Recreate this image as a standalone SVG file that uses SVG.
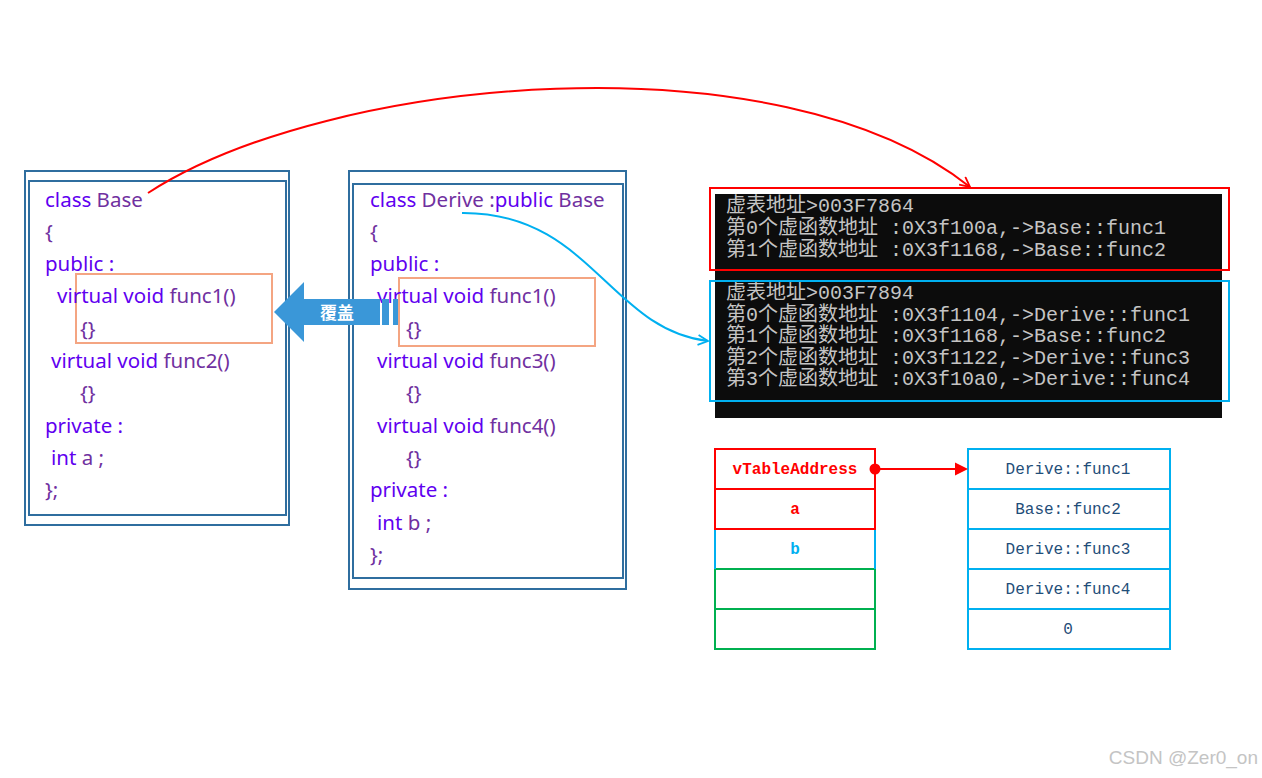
<svg xmlns="http://www.w3.org/2000/svg" width="1262" height="778" viewBox="0 0 1262 778">
  <defs>
    <style>
      .frame { fill: none; stroke: #2f6e9f; stroke-width: 2; }
      .code { font-family: "Noto Sans", "Liberation Sans", sans-serif; font-size: 20.5px; fill: #7030a0; }
      .kw { fill: #6000f0; }
      .hl { fill: none; stroke: #f4a582; stroke-width: 2; }
      .term { font-family: "Liberation Mono", "Noto Sans CJK SC", monospace; font-size: 20px; fill: #c4c4c4; }
      .cell { font-family: "Liberation Mono", monospace; font-size: 16px; text-anchor: middle; }
      .vt { fill: #1f4e79; }
      .tcell { fill: #ffffff; stroke: #00b0f0; stroke-width: 2; }
    </style>
    <marker id="openRed" viewBox="0 0 12 12" refX="11" refY="6" markerWidth="12" markerHeight="12" markerUnits="userSpaceOnUse" orient="auto">
      <path d="M1,1 L11,6 L1,11" fill="none" stroke="#ff0000" stroke-width="1.8"/>
    </marker>
    <marker id="openBlue" viewBox="0 0 12 12" refX="11" refY="6" markerWidth="12" markerHeight="12" markerUnits="userSpaceOnUse" orient="auto">
      <path d="M1,1 L11,6 L1,11" fill="none" stroke="#00b0f0" stroke-width="1.8"/>
    </marker>
  </defs>

  <rect width="1262" height="778" fill="#ffffff"/>

  <!-- class Base -->
  <g id="base-class">
    <rect class="frame" x="25" y="171" width="264" height="354"/>
    <rect class="frame" x="29" y="181" width="257" height="334"/>
    <rect class="hl" x="76" y="274" width="196" height="69"/>
    <text class="code" x="45" y="206.5"><tspan class="kw">class</tspan> Base</text>
    <text class="code" x="45" y="238.8">{</text>
    <text class="code kw" x="45" y="271.1">public :</text>
    <text class="code" x="57" y="303.4"><tspan class="kw">virtual void</tspan> func1()</text>
    <text class="code" x="80" y="335.7">{}</text>
    <text class="code" x="51" y="368"><tspan class="kw">virtual void</tspan> func2()</text>
    <text class="code" x="80" y="400.3">{}</text>
    <text class="code kw" x="45" y="432.6">private :</text>
    <text class="code" x="51" y="464.9"><tspan class="kw">int</tspan> a ;</text>
    <text class="code" x="45" y="497.2">};</text>
  </g>

  <!-- class Derive -->
  <g id="derive-class">
    <rect class="frame" x="349" y="171" width="277" height="418"/>
    <rect class="frame" x="353" y="184" width="270" height="394"/>
    <rect class="hl" x="399" y="278" width="196" height="68"/>
    <text class="code" x="370" y="206.5"><tspan class="kw">class</tspan> Derive :<tspan class="kw">public</tspan> Base</text>
    <text class="code" x="370" y="238.8">{</text>
    <text class="code kw" x="370" y="271.1">public :</text>
    <text class="code" x="377" y="303.4"><tspan class="kw">virtual void</tspan> func1()</text>
    <text class="code" x="406" y="335.7">{}</text>
    <text class="code" x="377" y="368"><tspan class="kw">virtual void</tspan> func3()</text>
    <text class="code" x="406" y="400.3">{}</text>
    <text class="code" x="377" y="432.6"><tspan class="kw">virtual void</tspan> func4()</text>
    <text class="code" x="406" y="464.9">{}</text>
    <text class="code kw" x="370" y="497.2">private :</text>
    <text class="code" x="377" y="529.5"><tspan class="kw">int</tspan> b ;</text>
    <text class="code" x="370" y="561.8">};</text>
  </g>

  <!-- override arrow -->
  <g id="override">
    <polygon points="274,312 304,282 304,299 380,299 380,325 304,325 304,342" fill="#3a97d8"/>
    <rect x="382" y="299" width="7" height="26" fill="#3a97d8"/>
    <rect x="393" y="299" width="5" height="26" fill="#3a97d8"/>
    <text x="337" y="318.5" font-family="Noto Sans CJK SC, sans-serif" font-size="17" font-weight="bold" fill="#ffffff" text-anchor="middle">覆盖</text>
  </g>

  <!-- console output -->
  <g id="console">
    <rect x="715" y="194" width="507" height="224" fill="#0c0c0c"/>
    <text class="term" x="726" y="212">虚表地址&gt;003F7864</text>
    <text class="term" x="726" y="234">第0个虚函数地址 :0X3f100a,-&gt;Base::func1</text>
    <text class="term" x="726" y="255.5">第1个虚函数地址 :0X3f1168,-&gt;Base::func2</text>
    <text class="term" x="726" y="299">虚表地址&gt;003F7894</text>
    <text class="term" x="726" y="320.5">第0个虚函数地址 :0X3f1104,-&gt;Derive::func1</text>
    <text class="term" x="726" y="342">第1个虚函数地址 :0X3f1168,-&gt;Base::func2</text>
    <text class="term" x="726" y="363.5">第2个虚函数地址 :0X3f1122,-&gt;Derive::func3</text>
    <text class="term" x="726" y="385">第3个虚函数地址 :0X3f10a0,-&gt;Derive::func4</text>
    <rect x="710" y="188" width="519" height="82" fill="none" stroke="#ff0000" stroke-width="2"/>
    <rect x="710" y="281" width="519" height="120" fill="none" stroke="#00b0f0" stroke-width="2"/>
  </g>

  <!-- object layout -->
  <g id="object-layout">
    <rect x="715" y="569" width="160" height="40" fill="none" stroke="#00b050" stroke-width="2"/>
    <rect x="715" y="609" width="160" height="40" fill="none" stroke="#00b050" stroke-width="2"/>
    <path d="M715,569 V529 M875,529 V569" fill="none" stroke="#00b0f0" stroke-width="2"/>
    <rect x="715" y="449" width="160" height="40" fill="none" stroke="#ff0000" stroke-width="2"/>
    <rect x="715" y="489" width="160" height="40" fill="none" stroke="#ff0000" stroke-width="2"/>
    <text class="cell" x="795" y="474" fill="#ff0000" font-weight="bold">vTableAddress</text>
    <text class="cell" x="795" y="514" fill="#ff0000" font-weight="bold">a</text>
    <text class="cell" x="795" y="554" fill="#00b0f0" font-weight="bold">b</text>
  </g>

  <!-- virtual table -->
  <g id="vtable">
    <rect class="tcell" x="968" y="449" width="202" height="40"/>
    <rect class="tcell" x="968" y="489" width="202" height="40"/>
    <rect class="tcell" x="968" y="529" width="202" height="40"/>
    <rect class="tcell" x="968" y="569" width="202" height="40"/>
    <rect class="tcell" x="968" y="609" width="202" height="40"/>
    <text class="cell vt" x="1068" y="474">Derive::func1</text>
    <text class="cell vt" x="1068" y="514">Base::func2</text>
    <text class="cell vt" x="1068" y="554">Derive::func3</text>
    <text class="cell vt" x="1068" y="594">Derive::func4</text>
    <text class="cell vt" x="1068" y="634">0</text>
  </g>

  <!-- connectors -->
  <g id="connectors">
    <path d="M148,193 C330,75 780,35 970,187" fill="none" stroke="#ff0000" stroke-width="2" marker-end="url(#openRed)"/>
    <path d="M462,213 C590,212 610,330 708,341" fill="none" stroke="#00b0f0" stroke-width="2" marker-end="url(#openBlue)"/>
    <circle cx="875" cy="469" r="5.5" fill="#ff0000"/>
    <line x1="875" y1="469" x2="956" y2="469" stroke="#ff0000" stroke-width="2"/>
    <polygon points="968,469 955,462.5 955,475.5" fill="#ff0000"/>
  </g>

  <text x="1258" y="764" font-family="Liberation Sans, sans-serif" font-size="19" fill="#c4c4c4" text-anchor="end">CSDN @Zer0_on</text>
</svg>
